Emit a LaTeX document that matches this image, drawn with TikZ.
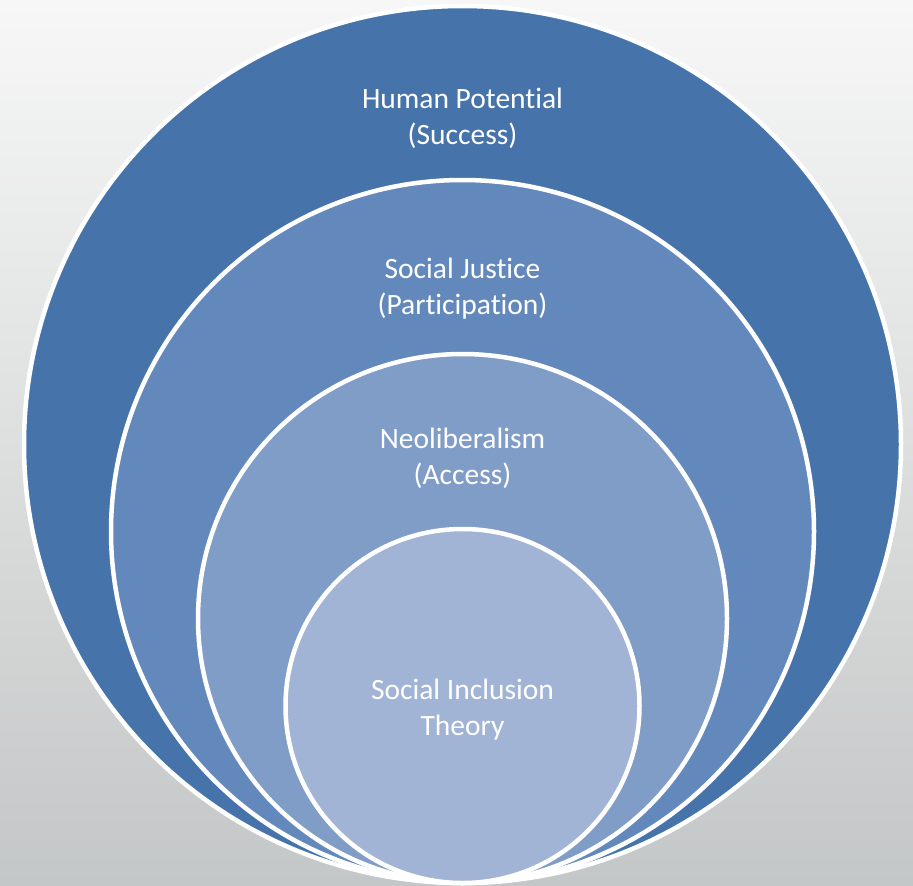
\documentclass[tikz,border=0pt]{standalone}
\usepackage{fontspec}
\newfontfamily\calibrifont[Ligatures=NoCommon]{Carlito}
\definecolor{ringA}{RGB}{70,116,170}
\definecolor{ringB}{RGB}{99,137,188}
\definecolor{ringC}{RGB}{128,157,199}
\definecolor{ringD}{RGB}{161,180,213}
\definecolor{bgtop}{RGB}{247,247,247}
\definecolor{bgmid}{RGB}{226,227,227}
\definecolor{bgbot}{RGB}{196,199,199}
\begin{document}
\begin{tikzpicture}[
 x=1pt, y=-1pt,
 align=center,
 ring/.style={circle,draw=white,line width=4.5pt,inner sep=0pt},
 caption/.style={text=white,font=\calibrifont\fontsize{29.5}{36}\selectfont}
]
\shade [top color=bgtop, middle color=bgmid, bottom color=bgbot] (0,0) rectangle (913,886);
\useasboundingbox (0,0) rectangle (913,886);
% nested circles, all touching at the bottom
\node (human-ring) [ring,fill=ringA,minimum size=877pt] at (462.5,444.5) {};
\node (justice-ring) [ring,fill=ringB,minimum size=703pt] at (462.5,531.5) {};
\node (neolib-ring) [ring,fill=ringC,minimum size=529pt] at (462.5,618.5) {};
\node (inclusion-ring) [ring,fill=ringD,minimum size=354pt] at (462.5,706) {};
% labels
\node (human-text) [caption] at (462.5,118) {Human Potential\\(Success)};
\node (justice-text) [caption] at (462.5,288.5) {Social Justice\\(Participation)};
\node (neolib-text) [caption] at (462.5,458) {Neoliberalism\\(Access)};
\node (inclusion-text) [caption] at (462.5,710) {Social Inclusion\\Theory};
\end{tikzpicture}
\end{document}
